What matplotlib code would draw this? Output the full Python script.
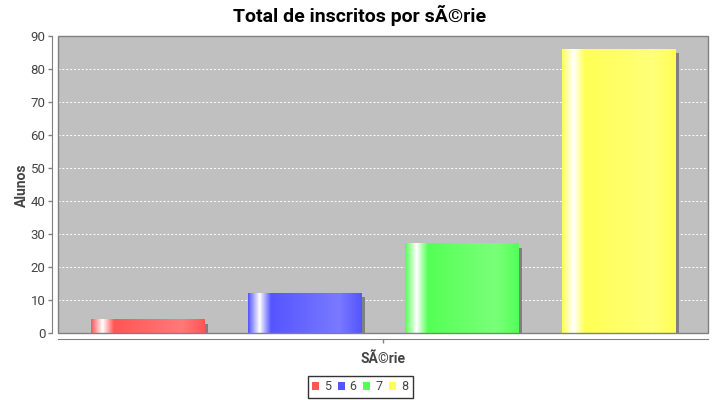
import numpy as np
import matplotlib
matplotlib.use("Agg")
import matplotlib.pyplot as plt
from matplotlib.patches import Rectangle
from matplotlib.colors import to_rgb

series = ["5", "6", "7", "8"]
values = [4, 12, 27, 86]
colors = ["#FF5555", "#5555FF", "#55FF55", "#FFFF55"]
title = "Total de inscritos por sÃ©rie"
xlabel = "SÃ©rie"
ylabel = "Alunos"
yticks = list(range(0, 91, 10))

plt.rcParams['font.family'] = ['Roboto', 'DejaVu Sans']

W, H = 720, 400
fig = plt.figure(figsize=(7.2, 4.0), dpi=100)
L, R, T, B = 58, 708, 36, 333
ax = fig.add_axes([L / W, 1 - B / H, (R - L) / W, (B - T) / H])
ax.set_facecolor("#C0C0C0")
ax.set_ylim(0, 90)
ax.set_xlim(-0.57, 3.57)

for sp in ax.spines.values():
    sp.set_visible(False)
# plot outline
ax.add_patch(Rectangle((0, 0), 1, 1, transform=ax.transAxes, fill=False,
                       edgecolor="#808080", lw=1.0, zorder=10, clip_on=False))
ax.spines['left'].set_visible(True)
ax.spines['left'].set_position(('outward', 4))
ax.spines['left'].set_color("#808080")
ax.spines['bottom'].set_visible(True)
ax.spines['bottom'].set_position(('outward', 4))
ax.spines['bottom'].set_color("#808080")

ax.set_yticks(yticks)
ax.tick_params(axis='y', direction='out', length=3, width=1, color="#808080",
               labelcolor="#444444", labelsize=9.5, pad=2)
ax.set_xticks([1.5])
ax.set_xticklabels([""])
ax.tick_params(axis='x', direction='out', length=3, width=1, color="#808080")
ax.yaxis.grid(True, color="white", linestyle=(0, (2, 2)), lw=0.7)
ax.set_axisbelow(True)

width = 0.72
# gradient profile (JFreeChart GradientBarPainter style)
def gradient_row(c, n=200):
    c0 = np.array(to_rgb(c))
    c1 = np.minimum(c0 / 0.7, 1.0)
    white = np.ones(3)
    t = np.linspace(0, 1, n)
    out = np.zeros((n, 3))
    g1, g2, g3 = 0.10, 0.20, 0.80
    for i, x in enumerate(t):
        if x < g1:
            f = x / g1
            out[i] = c0 * (1 - f) + white * f
        elif x < g2:
            f = (x - g1) / (g2 - g1)
            out[i] = white * (1 - f) + c0 * f
        elif x < g3:
            f = (x - g2) / (g3 - g2)
            out[i] = c0 * (1 - f) + c1 * f
        else:
            f = (x - g3) / (1 - g3)
            out[i] = c1 * (1 - f) + c0 * f
    return out

px_per_x = (R - L) / (3.57 + 0.57)
px_per_y = (B - T) / 90.0
for i, (v, c) in enumerate(zip(values, colors)):
    x0 = i - width / 2
    # shadow
    ax.add_patch(Rectangle((x0 + 4 / px_per_x, 0), width, v - 4 / px_per_y,
                           facecolor="#808080", edgecolor="none", zorder=2))
    img = gradient_row(c)[None, :, :]
    ax.imshow(img, extent=(x0, x0 + width, 0, v), aspect='auto',
              interpolation='bilinear', zorder=3)
ax.set_xlim(-0.57, 3.57)
ax.set_ylim(0, 90)

fig.text(0.5, 1 - 15 / H, title, ha='center', va='center', fontsize=14,
         fontweight='bold', color='black')
fig.text(22 / W, 1 - 185 / H, ylabel, ha='center', va='center', rotation=90,
         fontsize=10, fontweight='bold', color='#444444')
fig.text(383 / W, 1 - 359 / H, xlabel, ha='center', va='center',
         fontsize=10, fontweight='bold', color='#444444')

handles = [Rectangle((0, 0), 1, 1, facecolor=c, edgecolor='none') for c in colors]
leg = fig.legend(handles, series, loc='center', bbox_to_anchor=(360 / W, 1 - 387 / H),
                 ncol=4, frameon=True, fancybox=False, fontsize=9,
                 handlelength=0.55, handleheight=0.55, handletextpad=0.4,
                 columnspacing=0.55, borderpad=0.35, borderaxespad=0,
                 labelcolor='#444444')
leg.get_frame().set_edgecolor('black')
leg.get_frame().set_linewidth(1.0)

fig.savefig("out.png", dpi=100, facecolor='white')
